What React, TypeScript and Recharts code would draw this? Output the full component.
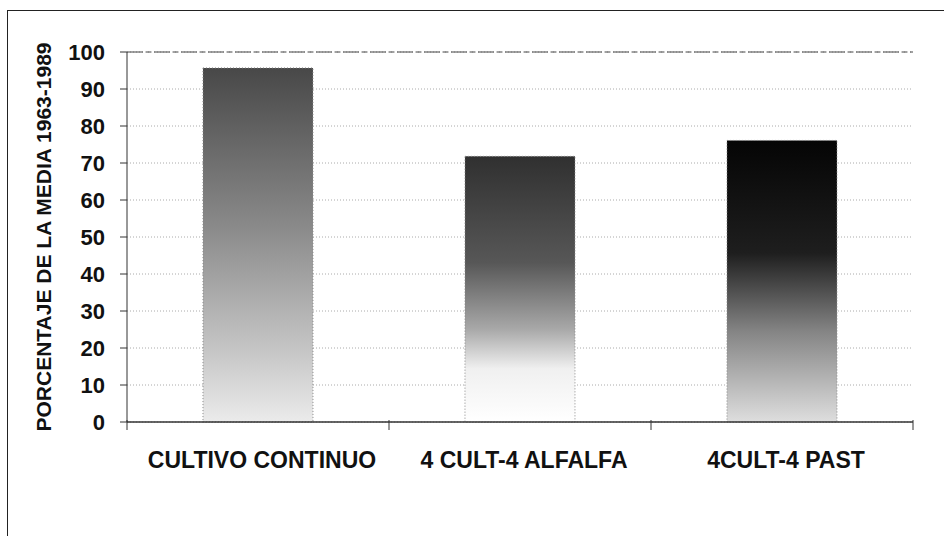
import React from 'react';
import { BarChart, Bar, XAxis, YAxis, CartesianGrid, Cell, ReferenceLine } from 'recharts';

const categories = ['CULTIVO CONTINUO', '4 CULT-4 ALFALFA', '4CULT-4 PAST'];
const values = [95.7, 71.8, 76.1];
const yTicks = [0, 10, 20, 30, 40, 50, 60, 70, 80, 90, 100];
const yLabel = 'PORCENTAJE DE LA MEDIA 1963-1989';
const gradients = [
  [['0%', '#484848'], ['45%', '#8a8a8a'], ['80%', '#c6c6c6'], ['100%', '#ebebeb']],
  [['0%', '#303030'], ['40%', '#575757'], ['65%', '#a8a8a8'], ['80%', '#f0f0f0'], ['100%', '#ffffff']],
  [['0%', '#050505'], ['40%', '#1e1e1e'], ['68%', '#858585'], ['100%', '#dedede']],
];

const data = categories.map((name, i) => ({ name, value: values[i] }));
const FONT = '"Liberation Sans", Arial, sans-serif';

const XTick = (props: any) => {
  const { x, y, payload, index } = props;
  const off = payload && typeof payload.offset === 'number' ? payload.offset : 0;
  return (
    <g>
      {off > 0 && (
        <line x1={x + off} x2={x + off} y1={y - 32} y2={y - 22} stroke="#333" strokeWidth={1} />
      )}
      {off > 0 && index === 0 && (
        <line x1={x - off} x2={x - off} y1={y - 32} y2={y - 22} stroke="#333" strokeWidth={1} />
      )}
      <text x={x + 4} y={y} dy="0.71em" textAnchor="middle" fontFamily={FONT} fontWeight="bold" fontSize={23} fill="#111">
        {payload.value}
      </text>
    </g>
  );
};

const YLabel = (props: any) => {
  const vb = props.viewBox || {};
  const cy = (vb.y || 0) + (vb.height || 0) / 2;
  return (
    <text
      x={43}
      y={cy}
      transform={`rotate(-90, 43, ${cy})`}
      textAnchor="middle"
      dominantBaseline="central"
      fontFamily={FONT}
      fontWeight="bold"
      fontSize={21}
      fill="#111"
    >
      {yLabel}
    </text>
  );
};

export default function App() {
  return (
    <div style={{ position: 'absolute', left: 0, top: 0, width: 944, height: 536, overflow: 'hidden', background: '#fff' }}>
      <div style={{ position: 'absolute', left: 7, top: 10, width: 1000, height: 600, border: '1px solid #222', boxSizing: 'border-box' }} />
      <div style={{ position: 'absolute', left: 0, top: 0 }}>
        <BarChart
          width={944}
          height={536}
          data={data}
          margin={{ top: 52, right: 31, bottom: 54, left: 67 }}
          barCategoryGap="29%"
        >
          <defs>
            {gradients.map((g, i) => (
              <linearGradient key={i} id={`grad${i}`} x1="0" y1="0" x2="0" y2="1">
                {g.map(([o, c]) => (
                  <stop key={o} offset={o} stopColor={c} />
                ))}
              </linearGradient>
            ))}
          </defs>
          <CartesianGrid vertical={false} stroke="#aaa" strokeDasharray="1 2" />
          <ReferenceLine y={100} stroke="#444" strokeDasharray="16 3 5 3" />
          <XAxis
            dataKey="name"
            axisLine={{ stroke: '#333', strokeWidth: 1.5 }}
            tickLine={false}
            tickSize={0}
            tickMargin={30}
            height={60}
            tick={<XTick />}
            interval={0}
          />
          <YAxis
            domain={[0, 100]}
            ticks={yTicks}
            interval={0}
            width={60}
            axisLine={{ stroke: '#333' }}
            tickLine={{ stroke: '#333' }}
            tickSize={7}
            tickMargin={15}
            tick={{ fontFamily: FONT, fontWeight: 'bold', fontSize: 22, fill: '#111' }}
            label={<YLabel />}
          />
          <Bar dataKey="value" isAnimationActive={false} stroke="#888" strokeDasharray="1 2" strokeWidth={1}>
            {data.map((d, i) => (
              <Cell key={d.name} fill={`url(#grad${i})`} />
            ))}
          </Bar>
        </BarChart>
      </div>
    </div>
  );
}
